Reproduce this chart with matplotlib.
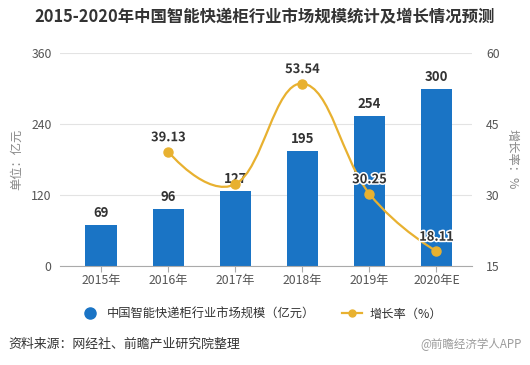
import matplotlib
matplotlib.use("Agg")
import matplotlib.pyplot as plt
import matplotlib.patheffects as pe
from matplotlib.path import Path
from matplotlib.patches import PathPatch
from matplotlib.lines import Line2D
import numpy as np

plt.rcParams['font.family'] = ['Noto Sans CJK SC', 'DejaVu Sans']

categories = ["2015年", "2016年", "2017年", "2018年", "2019年", "2020年E"]
market_size = [69, 96, 127, 195, 254, 300]
growth_years = ["2016年", "2017年", "2018年", "2019年", "2020年E"]
growth_rate = [39.13, 32.29, 53.54, 30.25, 18.11]
growth_labels = ["39.13", "", "53.54", "30.25", "18.11"]
left_ticks = [0, 120, 240, 360]
right_ticks = [15, 30, 45, 60]

title = "2015-2020年中国智能快递柜行业市场规模统计及增长情况预测"
bar_name = "中国智能快递柜行业市场规模（亿元）"
line_name = "增长率（%）"
source = "资料来源：网经社、前瞻产业研究院整理"
brand = "@前瞻经济学人APP"

BLUE = "#1a74c5"
GOLD = "#e8b130"
TXT = "#555555"
GRID = "#e3e3e3"

fig = plt.figure(figsize=(5.3, 3.65), dpi=100)
ax = fig.add_axes([60/530, 99/365, 412/530, 213/365])
ax2 = ax.twinx()

x = np.arange(len(categories))
ax.bar(x, market_size, width=0.47, color=BLUE, zorder=2)
for xi, v in zip(x, market_size):
    ax.text(xi, v + 8, str(v), ha="center", va="bottom", fontsize=9.5,
            fontweight="bold", color="#333333", zorder=5)

ax.set_ylim(0, 360)
ax.set_yticks(left_ticks)
ax.set_xlim(-0.615, 5.53)
ax.set_xticks(x)
ax.set_xticklabels(categories)
ax.grid(axis="y", color=GRID, linewidth=0.8, zorder=0)
ax.set_axisbelow(True)
for s in ["top", "right", "left"]:
    ax.spines[s].set_visible(False)
    ax2.spines[s].set_visible(False)
ax2.spines["bottom"].set_visible(False)
ax.spines["bottom"].set_color("#aaaaaa")
ax.tick_params(axis="x", colors="#aaaaaa", labelcolor=TXT, labelsize=8.8, length=4, pad=2)
ax.tick_params(axis="y", length=0, labelcolor=TXT, labelsize=8.8, pad=6)
ax.set_ylabel("单位：亿元", color="#888888", fontsize=8.8, labelpad=6)

# growth line (smooth bezier through data points)
gx = np.array([categories.index(c) for c in growth_years], dtype=float)
gy = np.array(growth_rate, dtype=float)
verts = [(gx[0], gy[0])]
codes = [Path.MOVETO]
n = len(gx)
def tangent(i):
    if i == 0 or i == n - 1:
        return 0.0, 0.0
    return (gx[i+1] - gx[i-1]) / 2.0, (gy[i+1] - gy[i-1]) / 2.0
for i in range(n - 1):
    t0 = tangent(i)
    t1 = tangent(i + 1)
    c1 = (gx[i] + t0[0] / 2.4, gy[i] + t0[1] / 2.4)
    c2 = (gx[i+1] - t1[0] / 2.4, gy[i+1] - t1[1] / 2.4)
    verts += [c1, c2, (gx[i+1], gy[i+1])]
    codes += [Path.CURVE4, Path.CURVE4, Path.CURVE4]
ax2.add_patch(PathPatch(Path(verts, codes), facecolor="none", edgecolor=GOLD,
                        linewidth=1.6, zorder=3))
ax2.plot(gx, gy, linestyle="none", marker="o", markersize=6.5, color=GOLD, zorder=4)
for xi, v, lab in zip(gx, gy, growth_labels):
    if lab:
        ax2.text(xi, v + 1.6, lab, ha="center", va="bottom", fontsize=9.3,
                 fontweight="bold", color="#333333", zorder=6,
                 path_effects=[pe.withStroke(linewidth=2.2, foreground="white")])

ax2.set_ylim(15, 60)
ax2.set_yticks(right_ticks)
ax2.tick_params(axis="y", length=0, labelcolor=TXT, labelsize=8.8, pad=10)
ax2.set_ylabel("增长率：%", color="#888888", fontsize=8.8, rotation=-90, labelpad=14)

fig.text(0.5, 1 - 17/365, title, ha="center", va="center", fontsize=11.8,
         fontweight="bold", color="#333333")

handles = [
    Line2D([], [], linestyle="none", marker="o", markersize=8, color=BLUE),
    Line2D([], [], color=GOLD, marker="o", markersize=5, linewidth=1.6),
]
fig.legend(handles, [bar_name, line_name], loc="center", bbox_to_anchor=(261/530, 1 - 314/365),
           ncol=2, frameon=False, fontsize=8.8, handlelength=1.6, columnspacing=2.2,
           handletextpad=0.6, labelcolor="#333333")

fig.text(8/530, 1 - 344/365, source, ha="left", va="center", fontsize=9.3, color="#333333")
fig.text(522/530, 1 - 344/365, brand, ha="right", va="center", fontsize=8.3, color="#9a9a9a")

fig.savefig("out.png", dpi=100)
